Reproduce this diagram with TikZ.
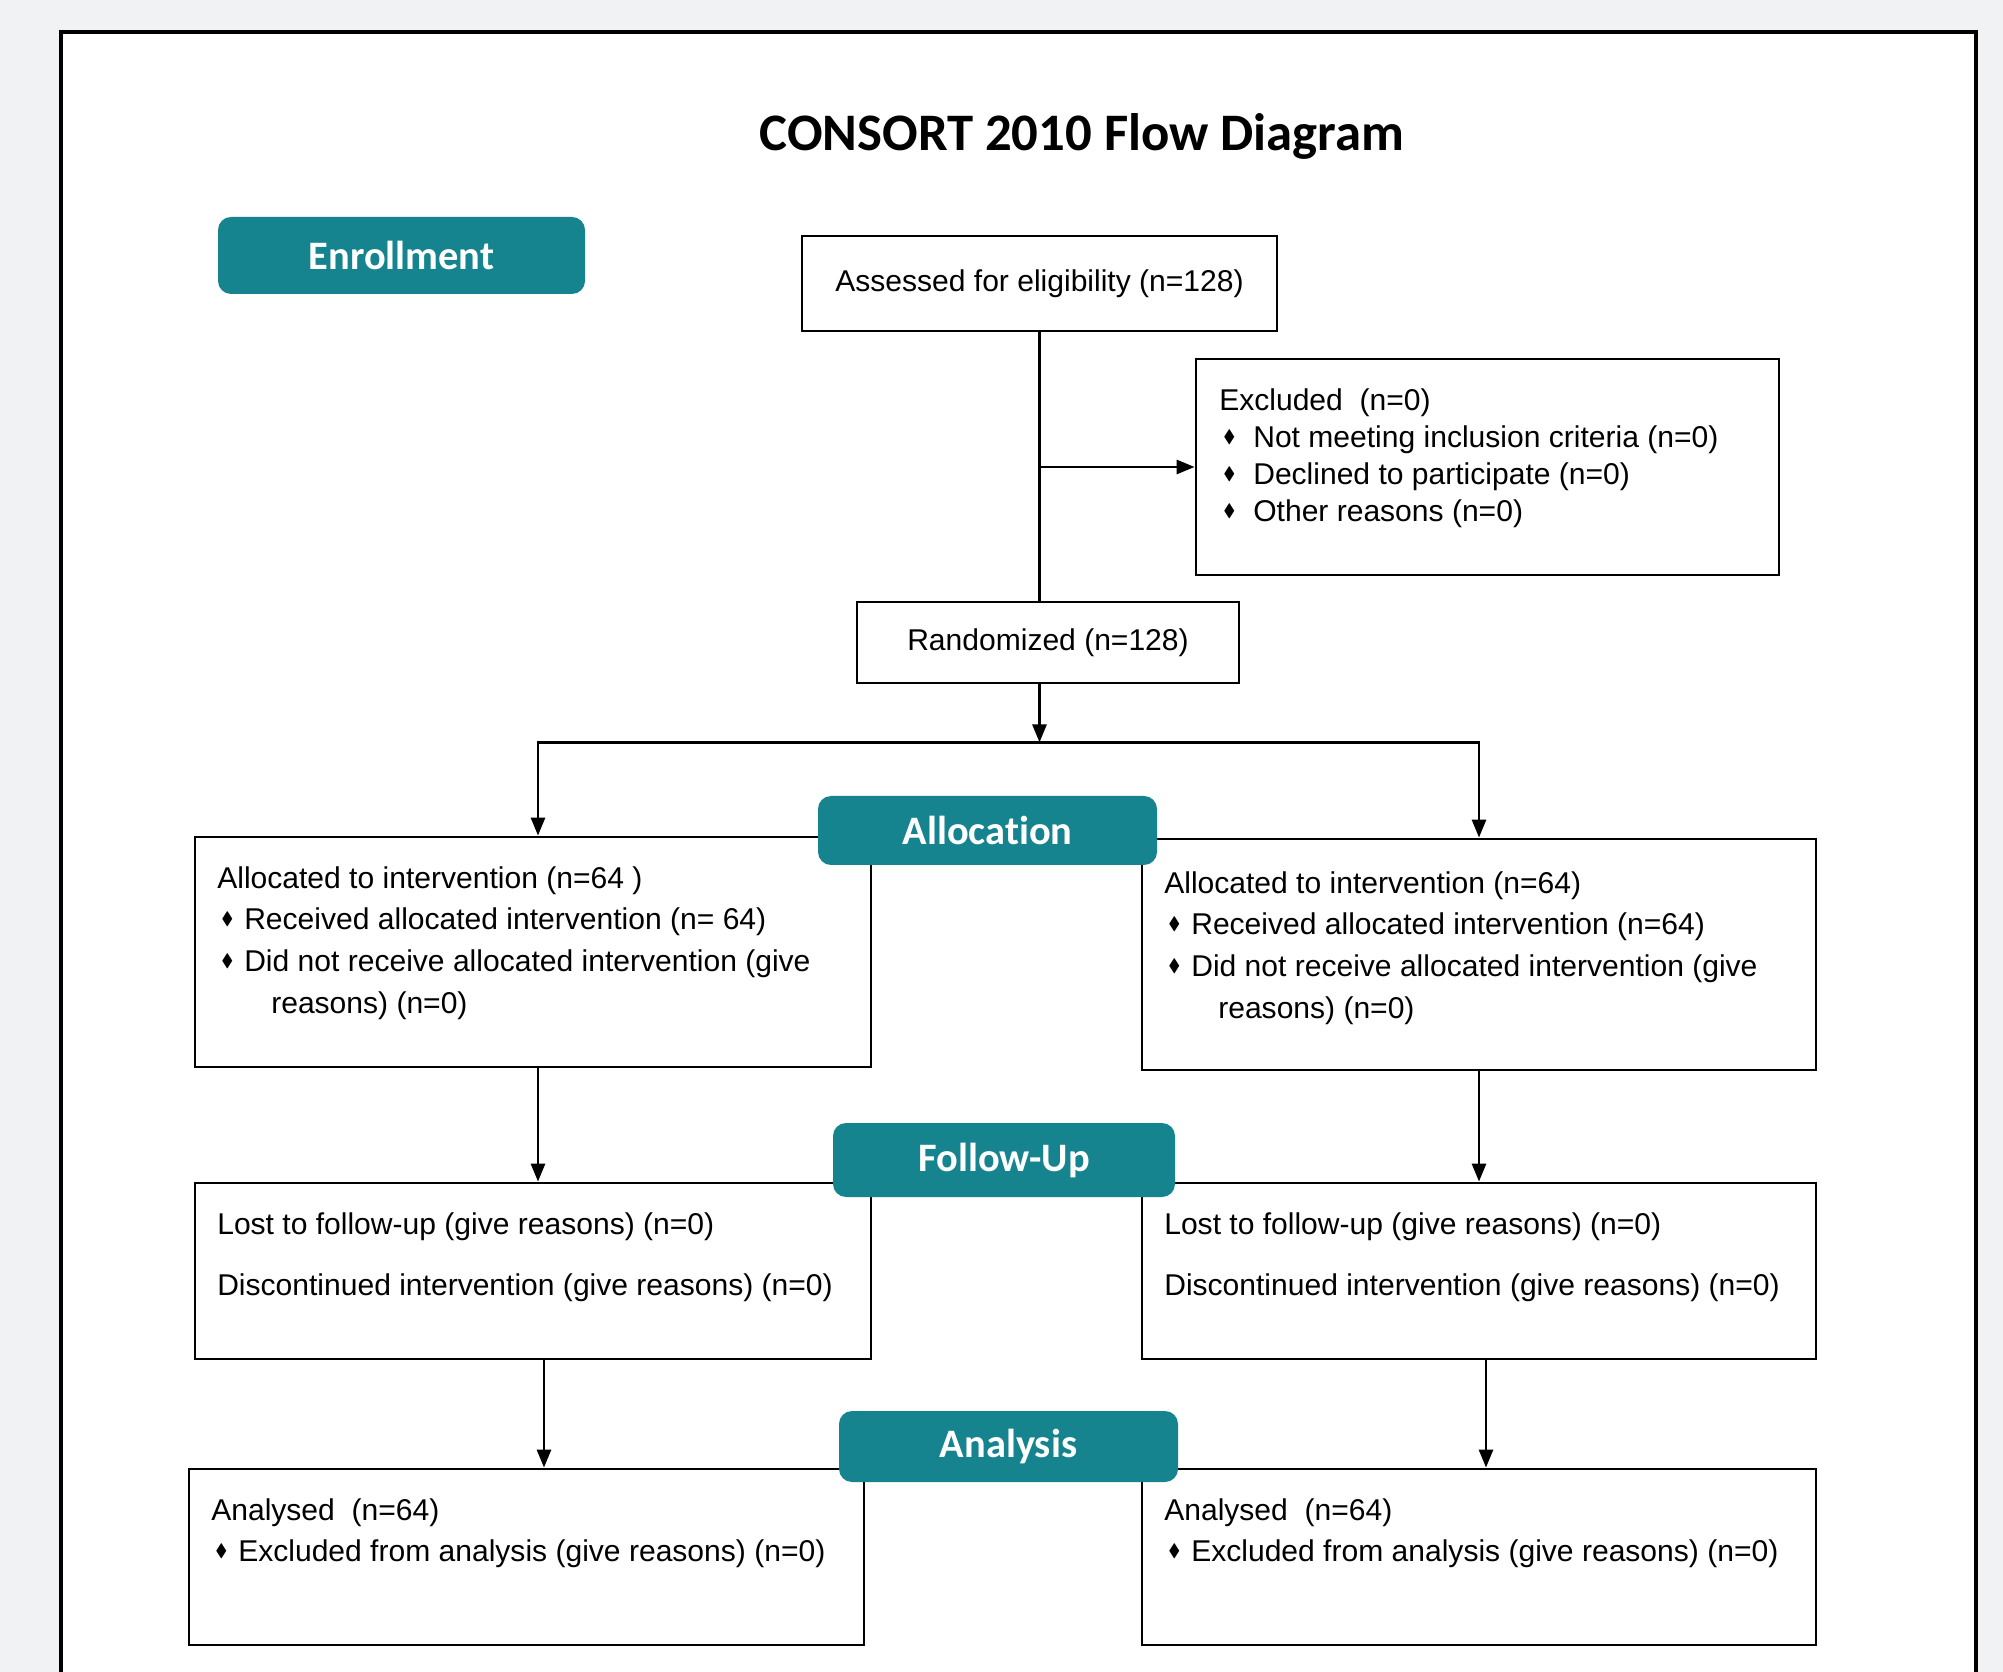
\documentclass[tikz,border=0pt]{standalone}
\usepackage{amssymb}
\usepackage{fontspec}
\setmainfont{Liberation Sans}
\newfontfamily\titlefont[Ligatures=NoCommon]{Carlito}
\usetikzlibrary{arrows.meta,positioning}
\definecolor{tealbg}{HTML}{15848F}
\definecolor{pagegray}{HTML}{F1F2F4}
% 菱形项目符号,#1为符号所占宽度
\newcommand{\dia}[1]{\makebox[#1][l]{\hspace{0.04cm}\raisebox{1.4pt}{\scalebox{0.6}{$\blacklozenge$}}}}

\begin{document}
\begin{tikzpicture}
        % 结点样式
        [BoxNode/.style={draw=black, line width=0.8pt, inner sep=0pt, font=\fontsize{8.55}{11.9}\selectfont},
        TxtNode/.style={anchor=north west, inner sep=0pt, align=left, font=\fontsize{8.55}{11.9}\selectfont},
        LabelNode/.style={fill=tealbg, rounded corners=0.13cm, text=white, inner sep=0pt, font=\titlefont\bfseries\fontsize{11.5}{13}\selectfont},
        LineStyle/.style={line width=0.8pt},
        ArrowLine/.style={line width=0.8pt, -{Triangle[length=1.8mm,width=1.4mm]}}]

        % 背景与外框
        \fill[pagegray](0,0)rectangle(20.03,-16.72);
        \useasboundingbox (0,0) rectangle (20.03,-16.72);
        \fill[white](0.61,-0.32)rectangle(19.76,-16.72);
        \draw[line width=1pt](0.61,-16.72)|-(19.76,-0.32)--(19.76,-16.72);

        % 标题
        \node (title) at (10.82,-1.36) {\titlefont\bfseries\fontsize{15}{18}\selectfont CONSORT 2010 Flow Diagram};

        % 纳入阶段
        \node[BoxNode, minimum width=4.75cm, minimum height=0.95cm] (assess) at (10.395,-2.835) {Assessed for eligibility (n=128)};
        \node[BoxNode, minimum width=5.83cm, minimum height=2.16cm] (excl) at (14.875,-4.67) {};
        \node[TxtNode, font=\fontsize{8.55}{10.6}\selectfont] (excl_t) at ([shift={(0.24,-0.30)}]excl.north west)
            {Excluded\ \ (n=0)\\
             \dia{0.34cm}Not meeting inclusion criteria (n=0)\\
             \dia{0.34cm}Declined to participate (n=0)\\
             \dia{0.34cm}Other reasons (n=0)};
        \node[BoxNode, minimum width=3.82cm, minimum height=0.81cm] (random) at (10.48,-6.425) {Randomized (n=128)};

        % 分配阶段
        \node[BoxNode, minimum width=6.76cm, minimum height=2.30cm] (allocL) at (5.33,-9.52) {};
        \node[TxtNode] (allocL_t) at ([shift={(0.23,-0.30)}]allocL.north west)
            {Allocated to intervention (n=64 )\\
             \dia{0.27cm}Received allocated intervention (n= 64)\\
             \dia{0.27cm}Did not receive allocated intervention (give\\
             \hspace*{0.54cm}reasons) (n=0)};
        \node[BoxNode, minimum width=6.74cm, minimum height=2.31cm] (allocR) at (14.79,-9.545) {};
        \node[TxtNode] (allocR_t) at ([shift={(0.23,-0.33)}]allocR.north west)
            {Allocated to intervention (n=64)\\
             \dia{0.27cm}Received allocated intervention (n=64)\\
             \dia{0.27cm}Did not receive allocated intervention (give\\
             \hspace*{0.54cm}reasons) (n=0)};

        % 随访阶段
        \node[BoxNode, minimum width=6.76cm, minimum height=1.76cm] (followL) at (5.33,-12.71) {};
        \node[TxtNode] (followL_t) at ([shift={(0.23,-0.30)}]followL.north west)
            {Lost to follow-up (give reasons) (n=0)\\[5.7pt]
             Discontinued intervention (give reasons) (n=0)};
        \node[BoxNode, minimum width=6.74cm, minimum height=1.76cm] (followR) at (14.79,-12.71) {};
        \node[TxtNode] (followR_t) at ([shift={(0.23,-0.30)}]followR.north west)
            {Lost to follow-up (give reasons) (n=0)\\[5.7pt]
             Discontinued intervention (give reasons) (n=0)};

        % 分析阶段
        \node[BoxNode, minimum width=6.75cm, minimum height=1.76cm] (analysL) at (5.265,-15.57) {};
        \node[TxtNode] (analysL_t) at ([shift={(0.23,-0.30)}]analysL.north west)
            {Analysed\ \ (n=64)\\
             \dia{0.27cm}Excluded from analysis (give reasons) (n=0)};
        \node[BoxNode, minimum width=6.74cm, minimum height=1.76cm] (analysR) at (14.79,-15.57) {};
        \node[TxtNode] (analysR_t) at ([shift={(0.23,-0.30)}]analysR.north west)
            {Analysed\ \ (n=64)\\
             \dia{0.27cm}Excluded from analysis (give reasons) (n=0)};

        % 连线
        \draw[LineStyle](assess.south)--(assess.south |- random.north);
        \draw[ArrowLine](assess.south |- excl.west)--(excl.west);
        \coordinate (split) at ([yshift=-0.58cm]random.south -| assess.south);
        \coordinate (jl) at (5.38,-7.41);
        \coordinate (jr) at (14.79,-7.41);
        \draw[ArrowLine](random.south -| assess.south)--(split);
        \draw[ArrowLine](split)-|(jl |- allocL.north);
        \draw[ArrowLine](split)-|(jr |- allocR.north);
        \draw[ArrowLine](jl |- allocL.south)--(jl |- followL.north);
        \draw[ArrowLine](allocR.south)--(followR.north);
        \draw[ArrowLine]([xshift=1.1mm]followL.south)--([xshift=1.1mm]followL.south |- analysL.north);
        \draw[ArrowLine]([xshift=0.7mm]followR.south)--([xshift=0.7mm]followR.south |- analysR.north);

        % 阶段标签
        \node[LabelNode, minimum width=3.67cm, minimum height=0.77cm] (enroll) at (4.015,-2.555) {Enrollment};
        \node[LabelNode, minimum width=3.39cm, minimum height=0.69cm] (alloc) at (9.875,-8.305) {Allocation};
        \node[LabelNode, minimum width=3.42cm, minimum height=0.74cm] (follow) at (10.04,-11.6) {Follow-Up};
        \node[LabelNode, minimum width=3.39cm, minimum height=0.71cm] (analys) at (10.085,-14.465) {Analysis};
    \end{tikzpicture}
\end{document}
